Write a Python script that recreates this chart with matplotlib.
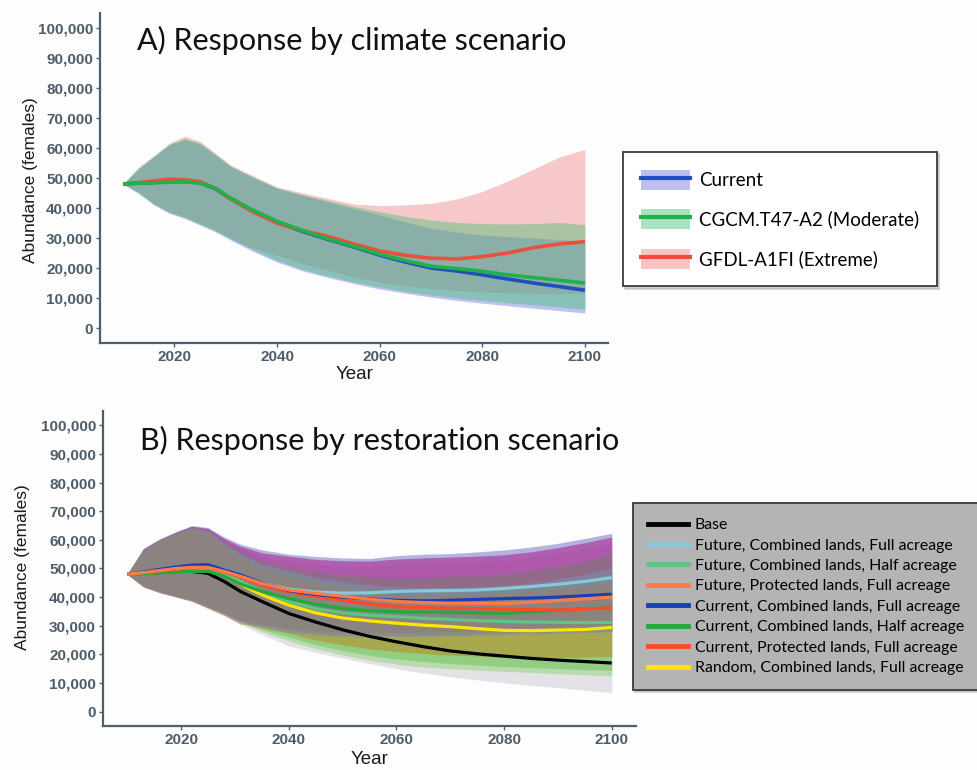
import matplotlib
matplotlib.use("Agg")
import matplotlib.pyplot as plt
from matplotlib.lines import Line2D
from matplotlib.patches import Patch

# ---------------------------------------------------------------- data
years = [2010, 2013, 2016, 2019, 2022, 2025, 2028, 2031, 2035, 2040, 2045, 2050,
         2055, 2060, 2065, 2070, 2075, 2080, 2085, 2090, 2095, 2100]

# Panel A: climate scenarios (mean and envelope)
climate_names = ["Current", "CGCM.T47-A2 (Moderate)", "GFDL-A1FI (Extreme)"]
current_mean = [48000, 48300, 48500, 48800, 48900, 48400, 46400, 43000, 39200, 35200, 32200,
                29500, 27000, 24300, 22000, 20000, 19000, 17700, 16300, 15000, 13800, 12600]
current_hi = [48000, 53000, 57000, 61000, 62800, 61300, 57500, 53700, 50400, 46500, 44200,
              42000, 39800, 37700, 35400, 33300, 32000, 31000, 30500, 30000, 29500, 28900]
current_lo = [48000, 44800, 41000, 38200, 36500, 34300, 32000, 29300, 25800, 22000, 19000,
              16800, 14800, 13000, 11600, 10300, 9200, 8300, 7400, 6600, 5800, 5000]
cgcm_mean = [48000, 48200, 48400, 48600, 48700, 48300, 46600, 43300, 39500, 35600, 32500,
             29700, 27200, 24600, 22500, 20600, 19800, 18900, 17700, 16800, 15900, 15000]
cgcm_hi = [48000, 53300, 57200, 61300, 63200, 61700, 58000, 54000, 50700, 46800, 44500,
           42500, 40500, 38800, 37200, 36000, 35200, 34800, 34700, 34800, 35200, 34400]
cgcm_lo = [48000, 45100, 41300, 38500, 36800, 34600, 32400, 29700, 26300, 22500, 19500,
           17300, 15300, 13600, 12200, 11000, 10000, 9200, 8400, 7700, 7000, 6200]
gfdl_mean = [48000, 48500, 49000, 49600, 49400, 48800, 46500, 43000, 39000, 35000, 32500,
             30500, 28000, 25700, 24200, 23300, 23000, 23800, 25000, 26800, 28000, 28800]
gfdl_hi = [48000, 53600, 57500, 61600, 64000, 62200, 58300, 54300, 51000, 47000, 45000,
           43200, 41300, 40800, 41000, 41500, 43000, 45500, 49000, 53000, 57000, 59500]
gfdl_lo = [48000, 45300, 41500, 38700, 37100, 34900, 32700, 30000, 26800, 24200, 21500,
           19300, 17000, 15300, 14100, 13200, 12500, 12000, 11700, 11500, 11400, 11500]

# Panel B: restoration scenarios (mean and envelope)
restoration_names = ["Base",
                     "Future, Combined lands, Full acreage",
                     "Future, Combined lands, Half acreage",
                     "Future, Protected lands, Full acreage",
                     "Current, Combined lands, Full acreage",
                     "Current, Combined lands, Half acreage",
                     "Current, Protected lands, Full acreage",
                     "Random, Combined lands, Full acreage"]
base_mean = [48000, 48300, 48600, 49000, 49000, 48300, 45500, 42000, 38500, 34300, 31300,
             28600, 26300, 24400, 22700, 21200, 20200, 19400, 18600, 18000, 17500, 17000]
base_hi = [48000, 56300, 59600, 62100, 63600, 62200, 57200, 53000, 49000, 46000, 43300,
           41300, 39800, 38800, 38300, 38000, 37800, 37800, 37800, 37900, 38000, 38200]
base_lo = [48000, 43500, 41500, 40000, 38500, 36000, 33500, 30500, 27000, 23000, 20700,
           18700, 16800, 15000, 13500, 12200, 11100, 10100, 9200, 8400, 7500, 6700]
fut_full_mean = [48000, 48700, 49500, 50300, 50900, 51000, 49500, 47800, 45000, 42800, 41800,
                 41400, 41500, 42000, 42200, 42300, 42500, 43000, 43700, 44500, 45500, 46800]
fut_full_hi = [48000, 56900, 60200, 62700, 64800, 64000, 60500, 57800, 55500, 54300, 53200,
               52700, 52600, 53300, 53700, 54000, 54300, 54800, 55800, 57300, 59000, 61000]
fut_full_lo = [48000, 43900, 41900, 40400, 39000, 36700, 34400, 31900, 30600, 29000, 28200,
               27800, 27600, 27600, 27800, 28000, 28300, 28600, 29000, 29500, 30000, 30500]
fut_half_mean = [48000, 48300, 48700, 49100, 49500, 49700, 48500, 45500, 42000, 38500, 36000,
                 34500, 33700, 33200, 32600, 32200, 31800, 31500, 31300, 31200, 31100, 31200]
fut_half_hi = [48000, 56500, 59800, 62300, 64000, 62800, 58200, 54500, 50800, 48300, 46000,
               44300, 43000, 42200, 42000, 42000, 42300, 42800, 43600, 44800, 46300, 48000]
fut_half_lo = [48000, 43600, 41700, 40300, 38900, 36500, 34100, 31200, 28000, 24700, 22000,
               19800, 18000, 16600, 15600, 15000, 14500, 14100, 13700, 13300, 12900, 12500]
fut_prot_mean = [48000, 48600, 49300, 50000, 50400, 50400, 49000, 47300, 44800, 42500, 41300,
                 40300, 39300, 38500, 38100, 37900, 37800, 37800, 38200, 38800, 39400, 40000]
fut_prot_hi = [48000, 56800, 60100, 62600, 64600, 63700, 60000, 57000, 54000, 52500, 51300,
               50700, 50500, 51200, 51500, 51800, 52200, 52800, 53800, 55200, 56800, 58500]
fut_prot_lo = [48000, 43700, 41700, 40200, 38700, 36400, 34000, 31300, 29900, 28000, 27000,
               26600, 26400, 26400, 26500, 26700, 26900, 27200, 27400, 27600, 27800, 28000]
cur_full_mean = [48000, 48800, 49700, 50500, 51200, 51300, 49500, 47800, 45000, 42300, 40900,
                 40000, 39400, 38900, 38700, 38900, 39200, 39500, 39700, 40000, 40500, 41000]
cur_full_hi = [48000, 57000, 60300, 62800, 65000, 64300, 61000, 58500, 56500, 55000, 54200,
               53700, 53500, 54500, 55000, 55200, 55800, 56500, 57500, 58800, 60500, 62300]
cur_full_lo = [48000, 43800, 41800, 40300, 38800, 36500, 34200, 31600, 30200, 28400, 27400,
               27000, 26800, 26800, 26900, 27000, 27200, 27400, 27600, 27800, 28000, 28200]
cur_half_mean = [48000, 48200, 48500, 48800, 49000, 49000, 47300, 44600, 42000, 39500, 37500,
                 36100, 35300, 34900, 34800, 34700, 34500, 34300, 34800, 35500, 35900, 36300]
cur_half_hi = [48000, 56600, 59900, 62400, 64400, 63400, 59300, 56000, 52500, 50500, 48800,
               47800, 47000, 46800, 46900, 47200, 47500, 48000, 49000, 50500, 52500, 55000]
cur_half_lo = [48000, 43700, 41900, 40500, 39200, 36900, 34600, 31800, 28800, 26000, 23400,
               21300, 19700, 18400, 17500, 16800, 16300, 15800, 15400, 15000, 14700, 14400]
cur_prot_mean = [48000, 48600, 49200, 49800, 50200, 50300, 48800, 47000, 44300, 41800, 40200,
                 38900, 37600, 36600, 36300, 36100, 36000, 35800, 35700, 35500, 35800, 36300]
cur_prot_hi = [48000, 56700, 60000, 62500, 64200, 63100, 58700, 55200, 51500, 49200, 47000,
               45500, 44300, 43500, 43300, 43300, 43500, 44000, 45000, 46300, 48000, 50000]
cur_prot_lo = [48000, 43600, 41600, 40100, 38600, 36200, 33800, 31000, 29500, 27500, 26600,
               26200, 26000, 26000, 26100, 26300, 26500, 26800, 27000, 27200, 27400, 27600]
random_mean = [48000, 48300, 48700, 49000, 49300, 49500, 47800, 44500, 40800, 37200, 34500,
               32700, 31700, 30900, 30200, 29700, 29000, 28400, 28300, 28500, 28700, 29400]
random_hi = [48000, 56400, 59700, 62200, 63800, 62500, 57700, 53800, 50000, 47200, 44800,
             43000, 41700, 40800, 40500, 40500, 40800, 41300, 42000, 42800, 43800, 45000]
random_lo = [48000, 43550, 41550, 40050, 38550, 36100, 33600, 30600, 29300, 27400, 25000,
             23300, 22000, 21000, 20300, 19800, 19400, 19000, 18900, 18900, 19100, 19300]

y_ticks = list(range(0, 100001, 10000))
x_ticks = [2020, 2040, 2060, 2080, 2100]

# ---------------------------------------------------------------- style
W, H = 977, 770
fig = plt.figure(figsize=(W / 100, H / 100), dpi=100)
fig.patch.set_facecolor("#fdfdfe")

SPINE = "#4b606c"
TICKLAB = "#4f5d69"
TITLE_FONT = ["Lato", "DejaVu Sans"]
AX_FONT = ["Liberation Sans", "DejaVu Sans"]
LEGEND_SHADOW = {"ox": 1.5, "oy": -1.5, "color": "#b8b8b8", "alpha": 0.6}


def px_axes(left, top, right, bottom):
    return fig.add_axes([left / W, 1 - bottom / H, (right - left) / W, (bottom - top) / H])


def style_axes(ax):
    ax.set_facecolor("none")
    ax.set_xlim(2005.5, 2104.5)
    ax.set_ylim(-5000, 105000)
    for s in ("top", "right"):
        ax.spines[s].set_visible(False)
    for s in ("left", "bottom"):
        ax.spines[s].set_color(SPINE)
        ax.spines[s].set_linewidth(1.6)
    ax.set_yticks(y_ticks)
    ax.set_yticklabels([f"{v:,}" for v in y_ticks])
    ax.set_xticks(x_ticks)
    ax.tick_params(axis="both", colors=SPINE, length=3, width=1.0, labelsize=11,
                   labelcolor=TICKLAB, pad=2)
    for lab in ax.get_xticklabels() + ax.get_yticklabels():
        lab.set_fontweight("bold")
        lab.set_family(AX_FONT)


# ---------------------------------------------------------------- panel A
axA = px_axes(100, 13, 608, 343)
style_axes(axA)

a_series = {
    climate_names[0]: (current_mean, current_lo, current_hi, "#1f4fbf", "#7070e0"),
    climate_names[1]: (cgcm_mean, cgcm_lo, cgcm_hi, "#22b04a", "#40c070"),
    climate_names[2]: (gfdl_mean, gfdl_lo, gfdl_hi, "#e8503c", "#f08080"),
}
for name in (climate_names[2], climate_names[0], climate_names[1]):
    m, lo, hi, lc, fc = a_series[name]
    axA.fill_between(years, lo, hi, color=fc, alpha=0.42, linewidth=0)
for name in (climate_names[0], climate_names[2], climate_names[1]):
    m, lo, hi, lc, fc = a_series[name]
    axA.plot(years, m, color=lc, lw=2.6, solid_capstyle="butt")

fig.text(137 / W, 1 - 40 / H, "A) Response by climate scenario", fontsize=22,
         family=TITLE_FONT, ha="left", va="center", color="#111111")
fig.text(31 / W, 1 - 180 / H, "Abundance (females)", rotation=90, fontsize=12.5,
         family=AX_FONT, ha="center", va="center", color="#1a1a1a")
fig.text(355 / W, 1 - 374 / H, "Year", fontsize=13.5, family=AX_FONT,
         ha="center", va="center", color="#1a1a1a")

handles_a = []
for name in climate_names:
    m, lo, hi, lc, fc = a_series[name]
    handles_a.append((Patch(facecolor=fc, alpha=0.45, edgecolor="none"),
                      Line2D([], [], color=lc, lw=3)))
legA = fig.legend(handles_a, climate_names, loc="upper left",
                  bbox_to_anchor=(623 / W, 1 - 152 / H), bbox_transform=fig.transFigure,
                  prop={"family": TITLE_FONT, "size": 13.5}, frameon=True, fancybox=False,
                  shadow=LEGEND_SHADOW, framealpha=1,
                  handlelength=2.6, handleheight=1.25, labelspacing=1.05,
                  handletextpad=0.5, borderpad=0.95, borderaxespad=0)
legA.get_frame().set_edgecolor("#3a3a3a")
legA.get_frame().set_linewidth(1.3)

# ---------------------------------------------------------------- panel B
axB = px_axes(103, 411, 636, 726)
style_axes(axB)

# name -> mean, lo, hi, line colour, fill colour, fill alpha (dict order = drawing order)
b_series = {
    restoration_names[4]: (cur_full_mean, cur_full_lo, cur_full_hi, "#1740b8", "#2929a9", 0.35),
    restoration_names[1]: (fut_full_mean, fut_full_lo, fut_full_hi, "#86c8dc", "#ac0c7f", 0.50),
    restoration_names[0]: (base_mean, base_lo, base_hi, "#000000", "#828296", 0.22),
    restoration_names[2]: (fut_half_mean, fut_half_lo, fut_half_hi, "#5ec582", "#5ac828", 0.30),
    restoration_names[5]: (cur_half_mean, cur_half_lo, cur_half_hi, "#22aa3a", "#3cb41e", 0.30),
    restoration_names[7]: (random_mean, random_lo, random_hi, "#ffe600", "#c86e00", 0.40),
    restoration_names[3]: (fut_prot_mean, fut_prot_lo, fut_prot_hi, "#ff7a48", "#aa3ca0", 0.20),
    restoration_names[6]: (cur_prot_mean, cur_prot_lo, cur_prot_hi, "#ff4a26", "#7a96ba", 0.45),
}
for name, (m, lo, hi, lc, fc, fa) in b_series.items():
    axB.fill_between(years, lo, hi, color=fc, alpha=fa, linewidth=0)

for idx in [0, 7, 2, 5, 6, 1, 4, 3]:
    m, lo, hi, lc, fc, fa = b_series[restoration_names[idx]]
    axB.plot(years, m, color=lc, lw=2.3, solid_capstyle="butt")

fig.text(140 / W, 1 - 440 / H, "B) Response by restoration scenario", fontsize=22,
         family=TITLE_FONT, ha="left", va="center", color="#111111")
fig.text(23 / W, 1 - 567 / H, "Abundance (females)", rotation=90, fontsize=12.5,
         family=AX_FONT, ha="center", va="center", color="#1a1a1a")
fig.text(370 / W, 1 - 759 / H, "Year", fontsize=13.5, family=AX_FONT,
         ha="center", va="center", color="#1a1a1a")

handles_b = [Line2D([], [], color=b_series[n][3], lw=3.5) for n in restoration_names]
legB = fig.legend(handles_b, restoration_names, loc="upper left",
                  bbox_to_anchor=(633 / W, 1 - 503 / H), bbox_transform=fig.transFigure,
                  prop={"family": TITLE_FONT, "size": 11.4}, frameon=True, fancybox=False,
                  shadow=LEGEND_SHADOW, framealpha=1,
                  handlelength=2.5, labelspacing=0.4, handletextpad=0.45,
                  borderpad=0.95, borderaxespad=0)
legB.get_frame().set_facecolor("#b4b4b4")
legB.get_frame().set_edgecolor("#3a3a3a")
legB.get_frame().set_linewidth(1.3)

fig.savefig("out.png", dpi=100, facecolor=fig.get_facecolor())
